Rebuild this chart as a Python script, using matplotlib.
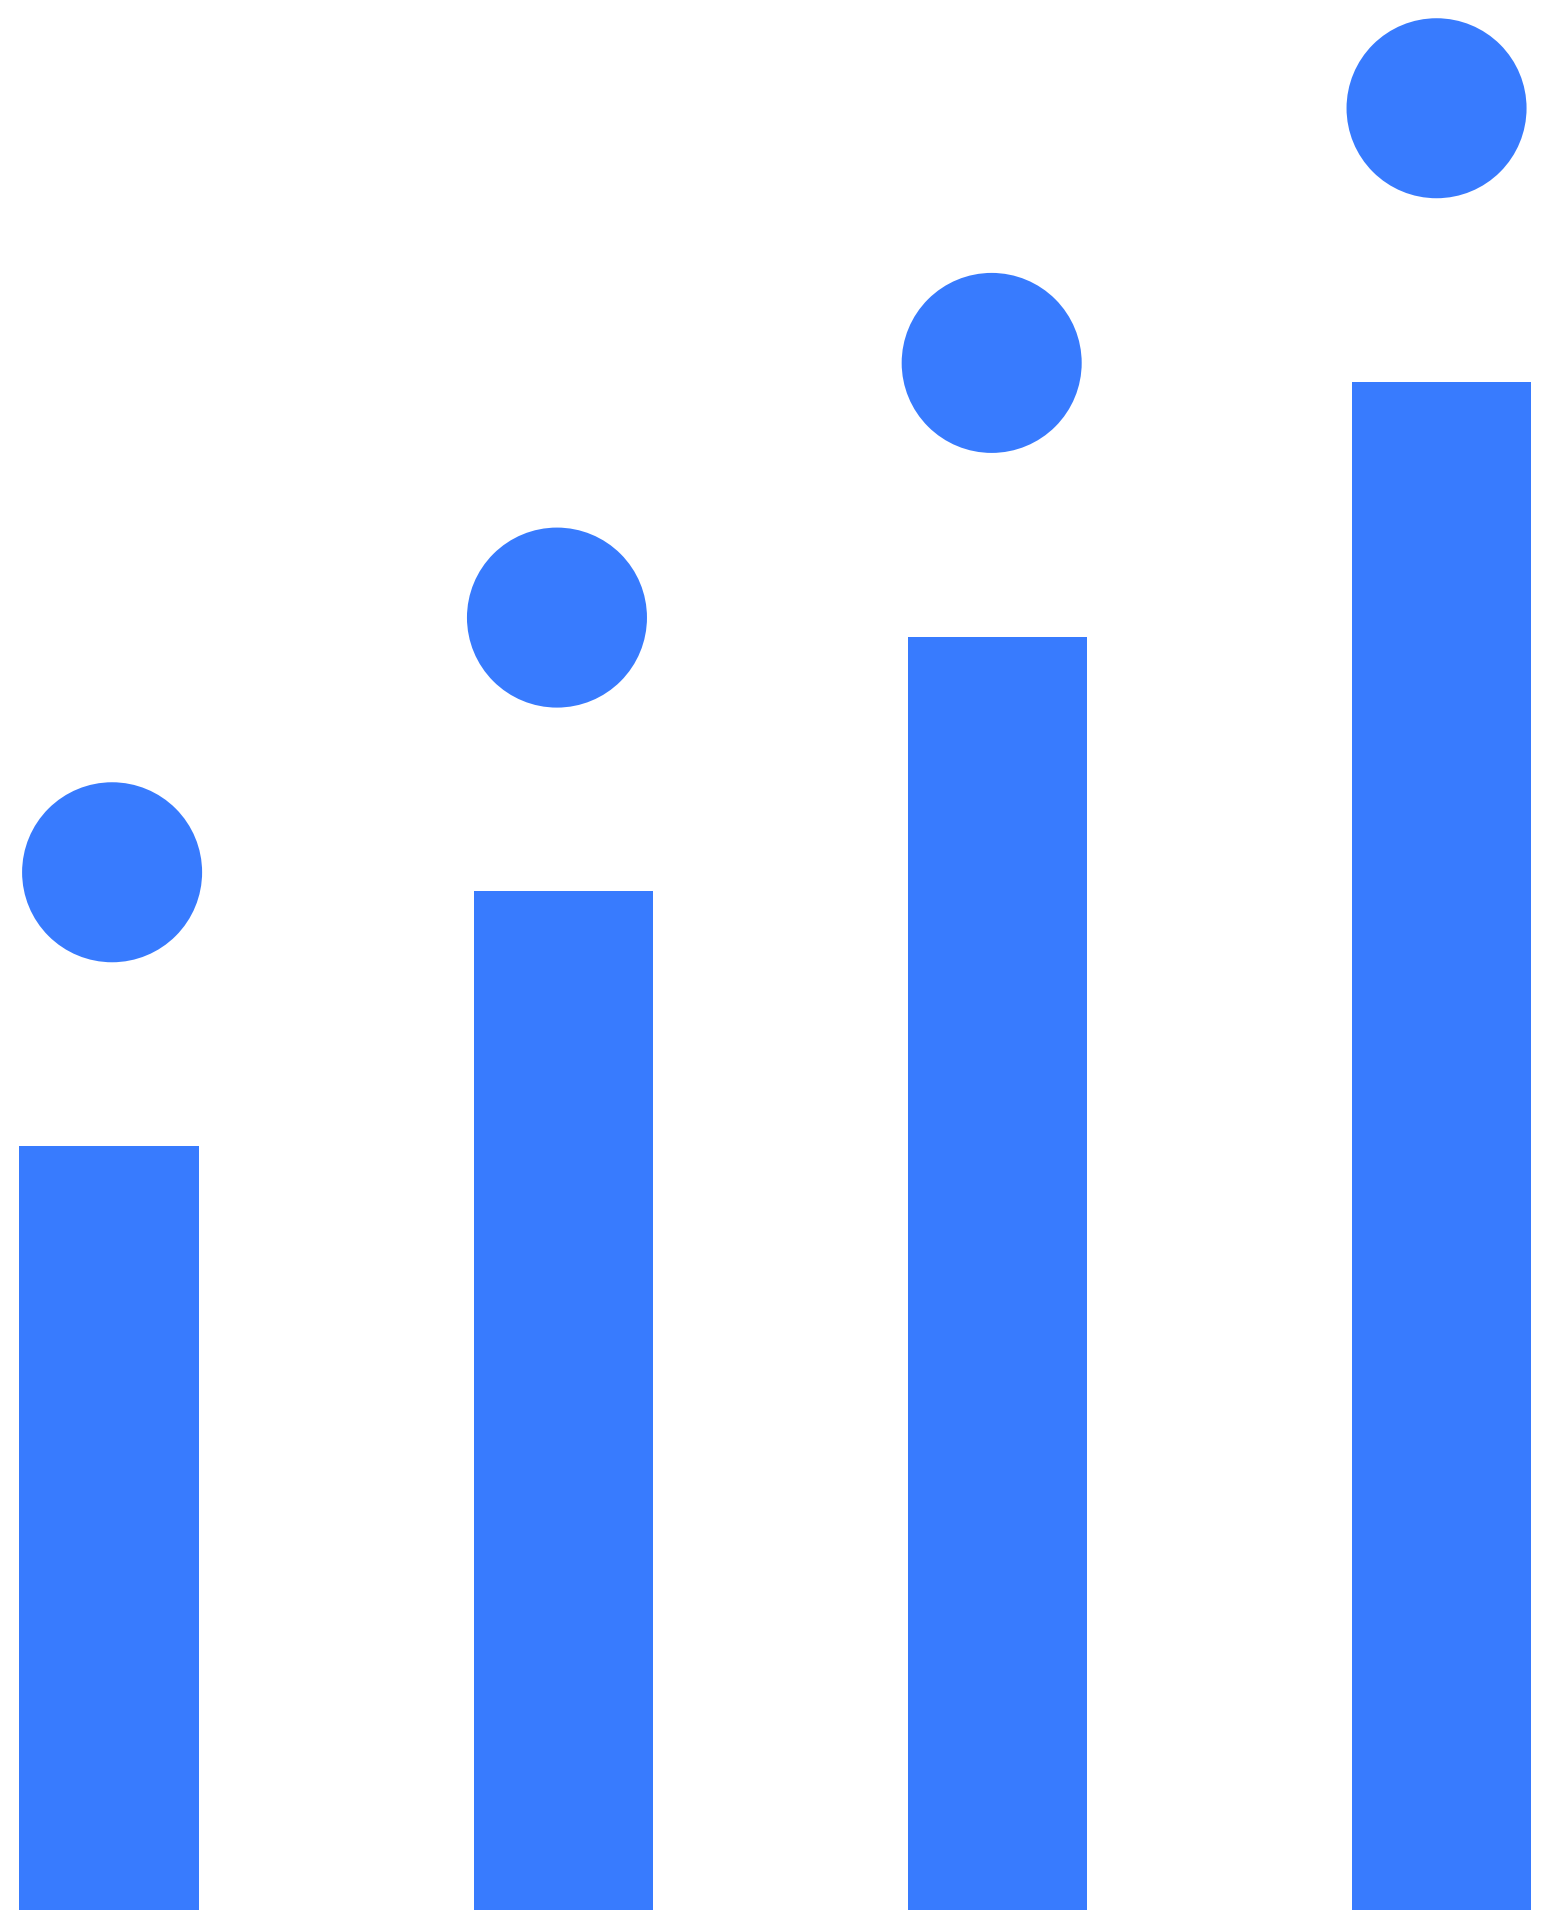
import matplotlib
matplotlib.use("Agg")
import matplotlib.pyplot as plt

# ===== Data =====
x_batang = [0.0, 1.029, 2.013, 3.019]
nilai_batang = [3.0, 4.0, 5.0, 6.0]
x_titik = [0.007, 1.015, 2.0, 3.008]
nilai_titik = [4.075, 5.075, 6.075, 7.075]

WARNA = "#387BFE"

fig = plt.figure(figsize=(15.46, 19.2), dpi=100)
ax = fig.add_axes([0, 0, 1, 1])

ax.bar(x_batang, nilai_batang, width=0.406, color=WARNA, zorder=2)
ax.scatter(x_titik, nilai_titik, s=16800, color=WARNA, edgecolors="none", zorder=3)

ax.set_xlim(-0.247, 3.256)
ax.set_ylim(-0.039, 7.5)
ax.axis("off")

fig.savefig("out.png", dpi=100, facecolor="white")
